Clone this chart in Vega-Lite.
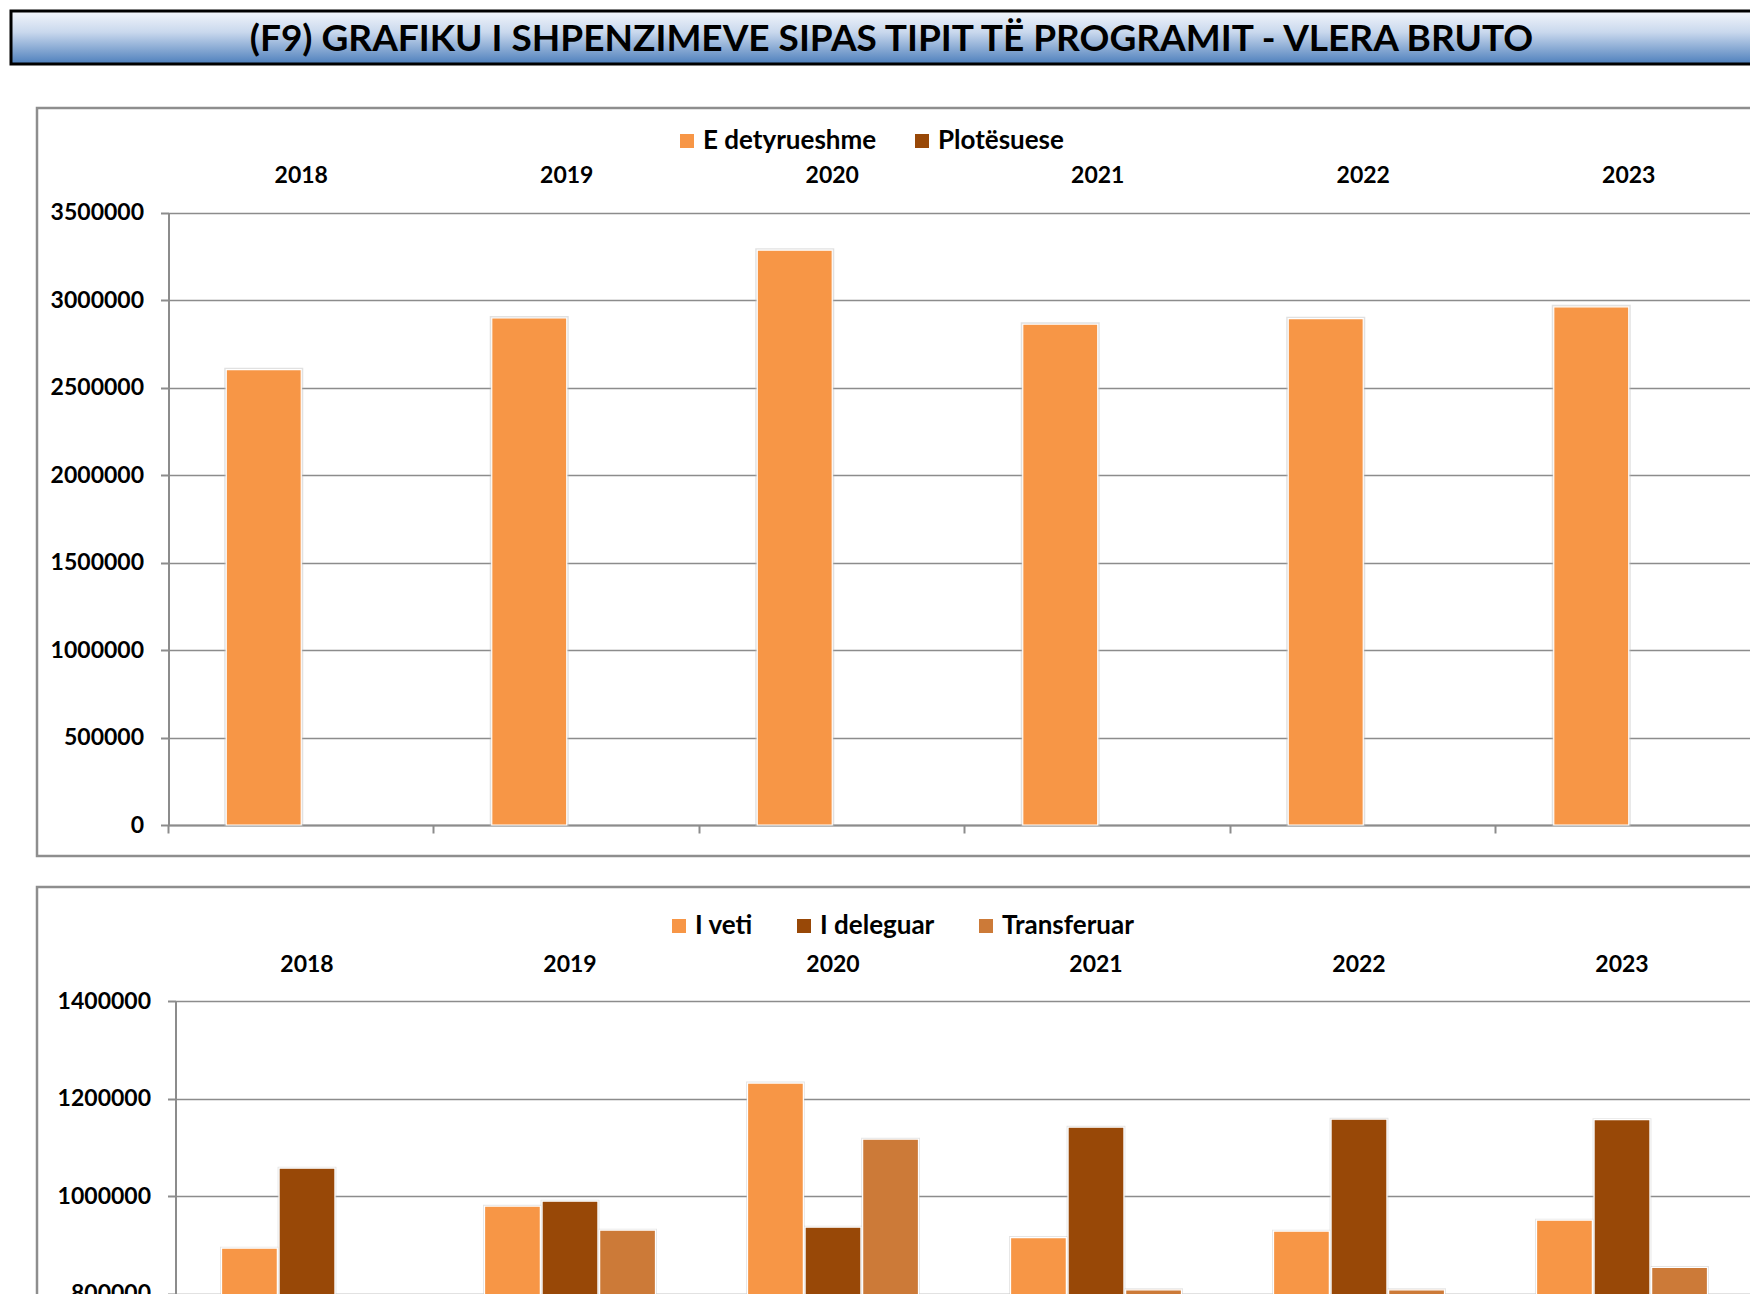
{
  "$schema": "https://vega.github.io/schema/vega-lite/v6.json",
  "background": "white",
  "padding": {"left": 9, "top": 9, "right": 0, "bottom": 0},
  "datasets": {
    "total": [
      {"year": "2018", "series": "E detyrueshme", "value": 2602500},
      {"year": "2018", "series": "Plotësuese", "value": 0},
      {"year": "2019", "series": "E detyrueshme", "value": 2898000},
      {"year": "2019", "series": "Plotësuese", "value": 0},
      {"year": "2020", "series": "E detyrueshme", "value": 3286000},
      {"year": "2020", "series": "Plotësuese", "value": 0},
      {"year": "2021", "series": "E detyrueshme", "value": 2862500},
      {"year": "2021", "series": "Plotësuese", "value": 0},
      {"year": "2022", "series": "E detyrueshme", "value": 2894000},
      {"year": "2022", "series": "Plotësuese", "value": 0},
      {"year": "2023", "series": "E detyrueshme", "value": 2962000},
      {"year": "2023", "series": "Plotësuese", "value": 0}
    ],
    "split": [
      {"year": "2018", "series": "I veti", "value": 893000},
      {"year": "2018", "series": "I deleguar", "value": 1057000},
      {"year": "2018", "series": "Transferuar", "value": 652500},
      {"year": "2019", "series": "I veti", "value": 979000},
      {"year": "2019", "series": "I deleguar", "value": 989300},
      {"year": "2019", "series": "Transferuar", "value": 929900},
      {"year": "2020", "series": "I veti", "value": 1231700},
      {"year": "2020", "series": "I deleguar", "value": 936000},
      {"year": "2020", "series": "Transferuar", "value": 1116400},
      {"year": "2021", "series": "I veti", "value": 914800},
      {"year": "2021", "series": "I deleguar", "value": 1141000},
      {"year": "2021", "series": "Transferuar", "value": 807500},
      {"year": "2022", "series": "I veti", "value": 927900},
      {"year": "2022", "series": "I deleguar", "value": 1157400},
      {"year": "2022", "series": "Transferuar", "value": 807500},
      {"year": "2023", "series": "I veti", "value": 950400},
      {"year": "2023", "series": "I deleguar", "value": 1156600},
      {"year": "2023", "series": "Transferuar", "value": 853300}
    ]
  },
  "config": {
    "view": {"stroke": null},
    "font": "Lato",
    "axis": {
      "labelFont": "Lato", "labelFontWeight": "bold", "labelColor": "black", "labelFontSize": 23,
      "domainColor": "#8c8c8c", "tickColor": "#8c8c8c", "gridColor": "#8c8c8c",
      "domainWidth": 2, "tickWidth": 2, "gridWidth": 1.6
    },
    "legend": {
      "labelFont": "Lato", "labelFontWeight": "bold", "labelFontSize": 26, "labelColor": "black",
      "labelLimit": 0,
      "symbolType": "square", "symbolSize": 196, "labelOffset": 3, "columnPadding": 32,
      "padding": 0, "symbolStrokeWidth": 0
    }
  },
  "resolve": {
    "scale": {"x": "independent", "y": "independent", "xOffset": "independent", "color": "independent"},
    "legend": {"color": "independent"}
  },
  "columns": 1,
  "spacing": 10,
  "concat": [
    {
      "width": 1734,
      "height": 53,
      "view": {"stroke": null},
      "data": {"values": [{"title": "(F9) GRAFIKU I SHPENZIMEVE SIPAS TIPIT TË PROGRAMIT - VLERA BRUTO"}]},
      "layer": [
        {
          "mark": {
            "type": "rect", "stroke": "black", "strokeWidth": 3,
            "color": {"gradient": "linear", "x1": 0, "y1": 0, "x2": 0, "y2": 1,
              "stops": [
                {"offset": 0, "color": "#f3f6fb"},
                {"offset": 0.4, "color": "#c9d8ed"},
                {"offset": 1, "color": "#4d7fbc"}
              ]}
          },
          "encoding": {
            "x": {"datum": 0, "type": "quantitative", "scale": {"domain": [0, 1], "range": [-26, 1734]}, "axis": null},
            "x2": {"datum": 1},
            "y": {"datum": 0, "type": "quantitative", "scale": {"domain": [0, 1], "range": [0, 53]}, "axis": null},
            "y2": {"datum": 1}
          }
        },
        {
          "mark": {"type": "text", "font": "Lato", "fontWeight": "bold", "fontSize": 37, "color": "black", "align": "center", "baseline": "middle", "dx": -12.5, "dy": 2},
          "encoding": {"text": {"field": "title", "type": "nominal"}}
        }
      ]
    },
    {
      "width": 1730,
      "height": 748,
      "view": {"stroke": "#8e8e8e", "strokeWidth": 2.5, "fill": "white"},
      "data": {"name": "total"},
      "transform": [{"filter": "datum.value > 0"}],
      "encoding": {
        "y": {
          "field": "value", "type": "quantitative", "stack": null,
          "scale": {"domain": [0, 3500000], "range": [717, 104.7], "nice": false},
          "axis": {
            "values": [0, 500000, 1000000, 1500000, 2000000, 2500000, 3000000, 3500000],
            "format": "d", "offset": -131.5, "tickSize": 8, "labelPadding": 17, "grid": true,
            "title": " ", "titleX": -60, "titleY": -30, "titleAngle": 0,
            "titleAlign": "left", "titleBaseline": "top", "titleFontSize": 2
          }
        },
        "xOffset": {"field": "series", "type": "nominal", "scale": {"domain": ["E detyrueshme", "Plotësuese"], "paddingInner": 0, "paddingOuter": 0}},
        "color": {
          "field": "series", "type": "nominal",
          "scale": {"domain": ["E detyrueshme", "Plotësuese"], "range": ["#F79646", "#984807"]},
          "legend": {"title": null, "orient": "none", "direction": "horizontal", "legendX": 637, "legendY": 20, "columnPadding": 32}
        }
      },
      "layer": [
        {
          "mark": {"type": "bar", "stroke": "#bdbdbd", "strokeWidth": 4, "strokeOpacity": 0.45},
          "encoding": {
            "x": {
              "field": "year", "type": "nominal",
              "scale": {"type": "band", "domain": ["2018", "2019", "2020", "2021", "2022", "2023"], "range": [131.5, 1724.5], "paddingInner": 0.435, "paddingOuter": 0.2175},
              "axis": {"orient": "bottom", "offset": -31, "labels": false, "ticks": true, "tickSize": 8, "bandPosition": -0.385, "domain": true, "title": null, "grid": false}
            }
          }
        },
        {
          "mark": {"type": "bar", "stroke": "white", "strokeWidth": 1.2},
          "encoding": {
            "x": {
              "field": "year", "type": "nominal",
              "scale": {"type": "band", "domain": ["2018", "2019", "2020", "2021", "2022", "2023"], "range": [131.5, 1724.5], "paddingInner": 0.435, "paddingOuter": 0.2175},
              "axis": {"orient": "top", "offset": -104.7, "labels": true, "ticks": false, "tickSize": 0, "domain": false, "labelAngle": 0, "labelBaseline": "middle", "labelPadding": 37.5, "title": null, "grid": false}
            }
          }
        }
      ]
    },
    {
      "width": 1730,
      "height": 830,
      "view": {"stroke": "#8e8e8e", "strokeWidth": 2.5, "fill": "white"},
      "data": {"name": "split"},
      "encoding": {
        "y": {
          "field": "value", "type": "quantitative", "stack": null,
          "scale": {"domain": [0, 1400000], "range": [796.5, 114], "nice": false},
          "axis": {
            "values": [0, 200000, 400000, 600000, 800000, 1000000, 1200000, 1400000],
            "format": "d", "offset": -138.5, "tickSize": 8, "labelPadding": 17, "grid": true,
            "title": " ", "titleX": -60, "titleY": -17, "titleAngle": 0,
            "titleAlign": "left", "titleBaseline": "top", "titleFontSize": 2
          }
        },
        "xOffset": {"field": "series", "type": "nominal", "scale": {"domain": ["I veti", "I deleguar", "Transferuar"], "paddingInner": 0.03, "paddingOuter": 0}},
        "color": {
          "field": "series", "type": "nominal",
          "scale": {"domain": ["I veti", "I deleguar", "Transferuar"], "range": ["#F79646", "#984807", "#CC7A38"]},
          "legend": {"title": null, "orient": "none", "direction": "horizontal", "legendX": 629, "legendY": 26, "columnPadding": 38}
        }
      },
      "layer": [
        {
          "mark": {"type": "bar", "stroke": "#bdbdbd", "strokeWidth": 3, "strokeOpacity": 0.4},
          "encoding": {
            "x": {
              "field": "year", "type": "nominal",
              "scale": {"type": "band", "domain": ["2018", "2019", "2020", "2021", "2022", "2023"], "range": [138.5, 1716.5], "paddingInner": 0.35, "paddingOuter": 0.175},
              "axis": {"orient": "bottom", "offset": -33.5, "labels": false, "ticks": true, "tickSize": 8, "bandPosition": -0.269, "domain": true, "title": null, "grid": false}
            }
          }
        },
        {
          "mark": {"type": "bar", "stroke": "white", "strokeWidth": 1.2},
          "encoding": {
            "x": {
              "field": "year", "type": "nominal",
              "scale": {"type": "band", "domain": ["2018", "2019", "2020", "2021", "2022", "2023"], "range": [138.5, 1716.5], "paddingInner": 0.35, "paddingOuter": 0.175},
              "axis": {"orient": "top", "offset": -114, "labels": true, "ticks": false, "tickSize": 0, "domain": false, "labelAngle": 0, "labelBaseline": "middle", "labelPadding": 36.5, "title": null, "grid": false}
            }
          }
        }
      ]
    }
  ]
}
